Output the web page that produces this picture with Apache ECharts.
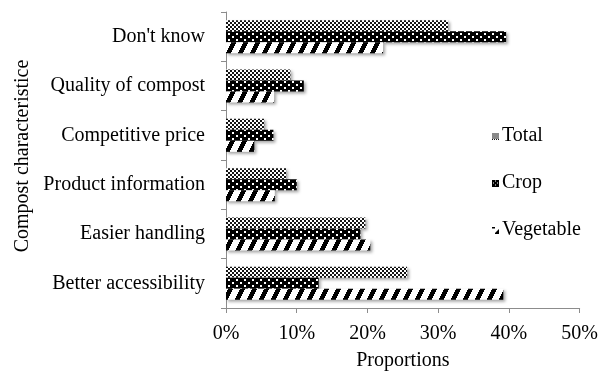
<!DOCTYPE html>
<html>
<head>
<meta charset="utf-8">
<script src="https://cdn.jsdelivr.net/npm/echarts@6/dist/echarts.min.js"></script>
<style>
html,body{margin:0;padding:0;background:#fff;}
#chart{width:601px;height:376px;}
</style>
</head>
<body>
<div id="chart"></div>
<script>
// Categories listed bottom to top
const categories = ['Better accessibility', 'Easier handling', 'Product information', 'Competitive price', 'Quality of compost', "Don't know"];
const totalValues = [0.256, 0.197, 0.085, 0.054, 0.091, 0.314];
const cropValues = [0.131, 0.190, 0.100, 0.067, 0.110, 0.396];
const vegetableValues = [0.392, 0.204, 0.069, 0.040, 0.068, 0.222];
const seriesNames = ['Total', 'Crop', 'Vegetable'];
const xTicks = [0, 0.1, 0.2, 0.3, 0.4, 0.5];

function makeTile(w, h, fn) {
  const c = document.createElement('canvas');
  c.width = w; c.height = h;
  const ctx = c.getContext('2d');
  const img = ctx.createImageData(w, h);
  for (let y = 0; y < h; y++) {
    for (let x = 0; x < w; x++) {
      const v = fn(x, y);
      const i = (y * w + x) * 4;
      img.data[i] = v; img.data[i + 1] = v; img.data[i + 2] = v; img.data[i + 3] = 255;
    }
  }
  ctx.putImageData(img, 0, 0);
  return c;
}
const totalTile = makeTile(4, 4, (x, y) => ((Math.floor(x / 2) + Math.floor(y / 2)) % 2 === 0) ? 20 : 255);
const cropTile = makeTile(8, 6, (x, y) => {
  const a = (x < 2 && y < 2);
  const b = (x >= 4 && x < 6 && y >= 3 && y < 5);
  return (a || b) ? 255 : 0;
});
const vegTile = makeTile(12, 24, (x, y) => (((x + Math.floor(y / 2)) % 12) < 5 ? 0 : 255));

// legend icons (small pattern swatches)
const totalIcon = makeTile(7, 7, (x, y) => ((x + y) % 2 === 0) ? 20 : 255).toDataURL();
const cropIcon = makeTile(7, 7, (x, y) => ((x === 3 && (y === 1 || y === 5)) || (y === 3 && (x === 1 || x === 5))) ? 255 : 0).toDataURL();
const vegIcon = makeTile(7, 7, (x, y) => ((y <= 1 && x <= 2) || (x + y >= 9 && y >= 3)) ? 0 : 255).toDataURL();

const font = 'Liberation Serif';
const axisGray = '#8c8c8c';
const fs = 20;

function barSeries(name, data, tile) {
  return {
    name: name,
    type: 'bar',
    data: data,
    barGap: '0%',
    barCategoryGap: '33%',
    itemStyle: {
      color: { image: tile, repeat: 'repeat' },
      shadowBlur: 3,
      shadowColor: 'rgba(0,0,0,0.35)',
      shadowOffsetX: 2,
      shadowOffsetY: 2
    }
  };
}

const chart = echarts.init(document.getElementById('chart'), null, { renderer: 'canvas' });
chart.setOption({
  animation: false,
  backgroundColor: '#fff',
  textStyle: { fontFamily: font, color: '#000' },
  grid: { left: 226, right: 20, top: 12, bottom: 65, containLabel: false },
  legend: {
    orient: 'vertical',
    left: 487,
    top: 121,
    itemWidth: 7,
    itemHeight: 7,
    itemGap: 27,
    data: [
      { name: seriesNames[0], icon: 'image://' + totalIcon },
      { name: seriesNames[1], icon: 'image://' + cropIcon },
      { name: seriesNames[2], icon: 'image://' + vegIcon }
    ],
    textStyle: { fontFamily: font, fontSize: fs, color: '#000', padding: [0, 0, 0, -2] }
  },
  xAxis: {
    type: 'value',
    min: xTicks[0],
    max: xTicks[xTicks.length - 1],
    interval: 0.1,
    name: 'Proportions',
    nameLocation: 'middle',
    nameGap: 43,
    nameTextStyle: { fontFamily: font, fontSize: fs, color: '#000' },
    axisLine: { show: true, lineStyle: { color: axisGray, width: 1 } },
    axisTick: { show: true, length: 5, lineStyle: { color: axisGray } },
    splitLine: { show: false },
    axisLabel: {
      fontFamily: font, fontSize: fs, color: '#000', margin: 16,
      formatter: v => Math.round(v * 100) + '%'
    }
  },
  yAxis: {
    type: 'category',
    data: categories,
    name: 'Compost characteristice',
    nameLocation: 'middle',
    nameRotate: 90,
    nameGap: 191,
    nameTextStyle: { fontFamily: font, fontSize: fs, color: '#000', padding: [0, 0, 0, 8] },
    axisLine: { show: true, lineStyle: { color: axisGray, width: 1 } },
    axisTick: { show: true, length: 5, lineStyle: { color: axisGray } },
    axisLabel: { fontFamily: font, fontSize: fs, color: '#000', margin: 21 }
  },
  series: [
    barSeries(seriesNames[0], totalValues, totalTile),
    barSeries(seriesNames[1], cropValues, cropTile),
    barSeries(seriesNames[2], vegetableValues, vegTile)
  ]
});
</script>
</body>
</html>
